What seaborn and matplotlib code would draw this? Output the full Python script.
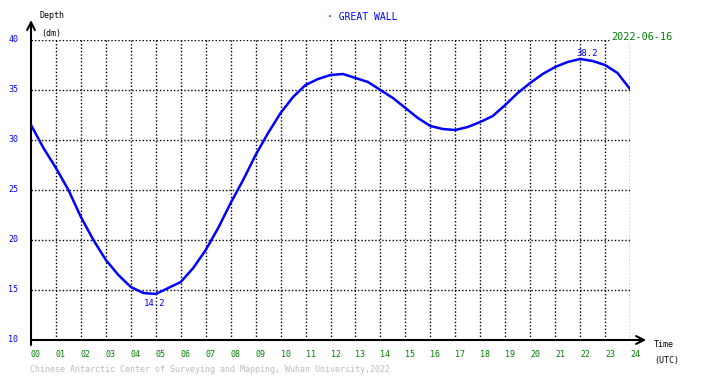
import matplotlib
matplotlib.use("Agg")
import matplotlib.pyplot as plt
import seaborn as sns
import pandas as pd

# ---- data ----
hours = [0, 0.5, 1, 1.5, 2, 2.5, 3, 3.5, 4, 4.5, 5, 5.5, 6, 6.5, 7, 7.5, 8,
         8.5, 9, 9.5, 10, 10.5, 11, 11.5, 12, 12.5, 13, 13.5, 14, 14.5, 15, 15.5, 16,
         16.5, 17, 17.5, 18, 18.5, 19, 19.5, 20, 20.5, 21, 21.5, 22, 22.5, 23, 23.5, 24]
depth = [31.5, 29.2, 27.2, 25.0, 22.3, 20.0, 18.0, 16.5, 15.3, 14.7, 14.6, 15.2, 15.8, 17.2, 19.0, 21.2, 23.7,
         26.0, 28.5, 30.7, 32.7, 34.3, 35.5, 36.1, 36.5, 36.6, 36.2, 35.8, 35.0, 34.2, 33.2, 32.2, 31.4,
         31.1, 31.0, 31.3, 31.8, 32.4, 33.5, 34.7, 35.7, 36.6, 37.3, 37.8, 38.1, 37.9, 37.5, 36.7, 35.1]
extreme_times = [4.95, 22.0]
extreme_vals = [14.2, 38.2]
xtick_vals = list(range(0, 25))
xtick_labels = [f"{h:02d}" for h in xtick_vals]
ytick_vals = [10, 15, 20, 25, 30, 35, 40]
ytick_labels = [str(v) for v in ytick_vals]

df = pd.DataFrame({"hour": hours, "depth": depth})

sns.set_style("white")
plt.rcParams["font.family"] = ["DejaVu Sans Mono", "DejaVu Sans"]

W, H = 710, 378
fig = plt.figure(figsize=(W / 100, H / 100), dpi=100)
fig.patch.set_facecolor("white")
ax = fig.add_axes([31 / W, 1 - 340 / H, (630 - 31) / W, 300 / H])
ax.set_xlim(0, 24)
ax.set_ylim(10, 40)

# grid
for h in xtick_vals[1:]:
    ax.plot([h, h], [10, 40], color="black", lw=1, ls=(0, (1, 1.5)), zorder=1)
for v in ytick_vals[1:]:
    ax.plot([0, 24], [v, v], color="black", lw=1, ls=(0, (1, 1.5)), zorder=1)

for s in ax.spines.values():
    s.set_visible(False)

# axes with arrows
ax.annotate("", xy=(0, 42), xytext=(0, 9.5), xycoords="data", textcoords="data",
            arrowprops=dict(arrowstyle="->", lw=1.5, color="black", mutation_scale=14,
                            shrinkA=0, shrinkB=0), annotation_clip=False)
ax.annotate("", xy=(24.65, 10), xytext=(0, 10), xycoords="data", textcoords="data",
            arrowprops=dict(arrowstyle="->", lw=1.5, color="black", mutation_scale=14,
                            shrinkA=0, shrinkB=0), annotation_clip=False)

# data
sns.lineplot(data=df, x="hour", y="depth", ax=ax, color="#0000ff", lw=1.8, zorder=3)

# extremes labels
ax.annotate(f"{extreme_vals[0]:.1f}", xy=(extreme_times[0], extreme_vals[0]), xytext=(0, -1),
            textcoords="offset points", ha="center", va="top", color="#0000ff", fontsize=6.5)
ax.annotate(f"{extreme_vals[1]:.1f}", xy=(extreme_times[1], extreme_vals[1]), xytext=(5, 0),
            textcoords="offset points", ha="center", va="bottom", color="#0000ff", fontsize=6.5)

# ticks
ax.set_xticks(xtick_vals)
ax.set_xticklabels(xtick_labels, ha="left", color="green", fontsize=6)
ax.set_yticks(ytick_vals)
ax.set_yticklabels(ytick_labels, color="#0000ff", fontsize=6)
ax.tick_params(axis="x", length=0, pad=7)
ax.tick_params(axis="y", length=0, pad=9)
for lab in ax.get_yticklabels():
    lab.set_va("center")
ax.set_xlabel("")
ax.set_ylabel("")


def ft(x, y, s, **kw):
    fig.text(x / W, 1 - y / H, s, **kw)


ft(40, 16, "Depth", ha="left", va="center", fontsize=6, color="black")
ft(41, 33.5, "(dm)", ha="left", va="center", fontsize=6, color="black")
ft(654, 344.5, "Time", ha="left", va="center", fontsize=6, color="black")
ft(654, 360, "(UTC)", ha="left", va="center", fontsize=6, color="black")
ft(327, 17, "· GREAT WALL", ha="left", va="center", fontsize=7, color="#0000ff")
ft(611, 37, "2022-06-16", ha="left", va="center", fontsize=7.3, color="green",
   bbox=dict(facecolor="white", edgecolor="none", pad=0.5))
ft(30, 370, "Chinese Antarctic Center of Surveying and Mapping, Wuhan University,2022",
   ha="left", va="center", fontsize=6, color="#bdbdbd")

fig.savefig("out.png", dpi=100)
